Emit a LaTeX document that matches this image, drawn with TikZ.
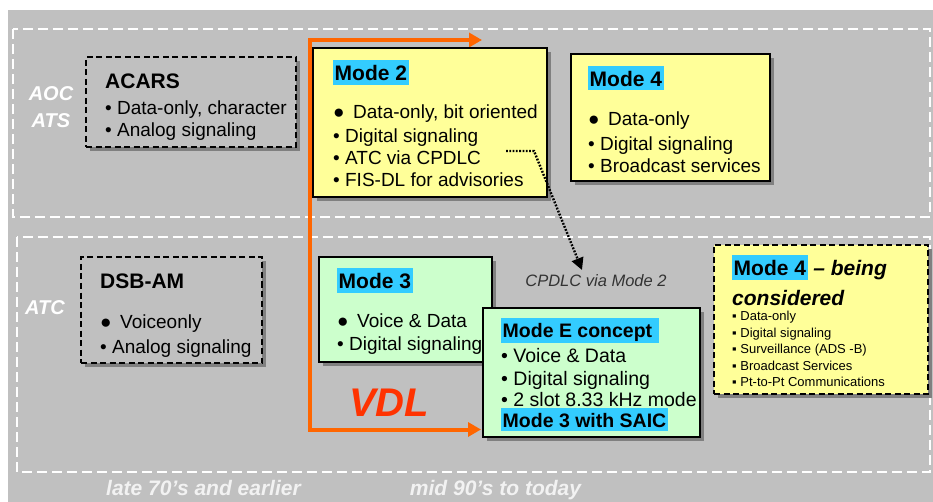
\documentclass[tikz,border=0pt]{standalone}
\usepackage{fontspec}
\setmainfont{Liberation Sans}
\usepackage{xcolor}
\usepackage{tikz}
\usetikzlibrary{
  arrows.meta,
  shadows
}
\definecolor{slidegray}{RGB}{192,192,192}
\definecolor{shadegray}{RGB}{128,128,128}
\definecolor{noteyellow}{RGB}{255,255,153}
\definecolor{notegreen}{RGB}{204,255,204}
\definecolor{markcyan}{RGB}{51,204,255}
\definecolor{vdlorange}{RGB}{255,102,0}
\definecolor{vdlred}{RGB}{255,51,0}
\definecolor{erawhite}{RGB}{242,242,242}
\definecolor{notegray}{RGB}{51,51,51}
\newcommand{\hlt}[1]{{\setlength{\fboxsep}{1.5pt}\colorbox{markcyan}{\rule[-0.12em]{0pt}{1.02em}#1}}}
\newcommand{\ttl}{\fontsize{21}{22}\selectfont\bfseries}
\newcommand{\bigdot}{●\hspace{0.45em}}
\newcommand{\dotb}{•\ }
\newcommand{\sqb}{▪\ }
\tikzset{
  region/.style={draw=white,line width=2pt,dash pattern=on 10pt off 5pt},
  boxshadow/.style={drop shadow={shadow xshift=4pt,shadow yshift=-4pt,
    fill=shadegray,opacity=1}},
  oldbox/.style={draw=black,line width=2pt,dash pattern=on 6pt off 3.5pt,
    fill=slidegray,boxshadow},
  vdlbox/.style={draw=black,line width=1.4pt,fill=#1,boxshadow},
  pending/.style={draw=black,line width=2pt,dash pattern=on 6pt off 3.5pt,
    fill=noteyellow,boxshadow},
  txt/.style={anchor=north west,inner sep=0pt,align=left,
    font=\fontsize{19}{22}\selectfont},
  sidelab/.style={text=white,inner sep=0pt,align=center,
    font=\fontsize{20}{27}\selectfont\bfseries\itshape},
  era/.style={anchor=base,text=erawhite,inner sep=0pt,
    font=\fontsize{21}{24}\selectfont\bfseries\itshape},
  vdlflow/.style={{Triangle[length=13pt,width=14pt]}-{Triangle[length=13pt,width=14pt]},
    line width=4pt,draw=vdlorange},
  cpdlcflow/.style={-{Triangle[length=12pt,width=12pt]},line width=2.4pt,
    dash pattern=on 1.8pt off 1.5pt,draw=black},
  lab/.style={anchor=base,inner sep=0pt,text=notegray,
    font=\fontsize{16.5}{18}\selectfont\itshape}
}
\begin{document}
\begin{tikzpicture}[x=1pt,y=-1pt]
  \useasboundingbox (0,0) rectangle (933,502);
  \fill[white] (0,0) rectangle (933,502);
  \fill[slidegray] (8,10) rectangle (933,502);
  \draw[region] (13,29) rectangle (930,217);
  \draw[region] (17,237) rectangle (930,472);

  \node[sidelab,anchor=north] (aocats) at (51,86) {AOC\\ATS};
  \node[sidelab,anchor=base] (atc) at (45,314) {ATC};

  \coordinate (vdltop) at (482,40);
  \coordinate (vdlbend) at (309.5,235);
  \coordinate (vdlend) at (481,429.5);
  \draw[vdlflow] (vdltop) -| (vdlbend) |- (vdlend);

  \node[oldbox,minimum width=210,minimum height=90] (acars) at (191,102) {};
  \node[txt] (acarstxt) at (105,74)
    {{\ttl ACARS}\\[4pt]\dotb Data-only, character\\\dotb Analog signaling};

  \node[vdlbox=noteyellow,minimum width=234,minimum height=149] (modetwo) at (430,122.5) {};
  \node[txt] (modetwotxt) at (333,60)
    {{\ttl\hlt{Mode 2}}\\[16pt]\bigdot Data-only, bit oriented\\[2pt]\dotb Digital signaling\\
     \dotb ATC via CPDLC\\\dotb FIS-DL for advisories};

  \node[vdlbox=noteyellow,minimum width=199,minimum height=127] (modefour) at (670.5,117.5) {};
  \node[txt] (modefourtxt) at (588,65.5)
    {{\ttl\hlt{Mode 4}}\\[17pt]\bigdot Data-only\\[3pt]\dotb Digital signaling\\\dotb Broadcast services};

  \node[oldbox,minimum width=181,minimum height=106] (dsbam) at (171.5,310) {};
  \node[txt] (dsbamtxt) at (100,274)
    {{\ttl DSB-AM}\\[18pt]\bigdot Voiceonly\\[3pt]\dotb Analog signaling};

  \node[vdlbox=notegreen,minimum width=173,minimum height=105] (modethree) at (405.5,309.5) {};
  \node[txt] (modethreetxt) at (337,268)
    {{\ttl\hlt{Mode 3}}\\[17pt]\bigdot Voice \& Data\\[1pt]\dotb Digital signaling};

  \node[vdlbox=notegreen,minimum width=217,minimum height=129] (modee) at (591.5,372.5) {};
  \node[txt,font=\fontsize{19.5}{21}\selectfont] (modeetxt) at (501,318)
    {{\bfseries\hlt{Mode E concept\ }}\\[4pt]\dotb Voice \& Data\\[2pt]\dotb Digital signaling\\
     \dotb 2 slot 8.33 kHz mode\\{\bfseries\hlt{Mode 3 with SAIC}}};

  \node[pending,minimum width=214,minimum height=149] (modefourplus) at (821,319.5) {};
  \node[txt,font=\fontsize{13}{16.5}\selectfont] (modefourplustxt) at (732,255)
    {{\ttl\hlt{Mode 4} \itshape – being}\\[9.5pt]{\ttl\itshape considered}\\[-1.5pt]
     \sqb Data-only\\\sqb Digital signaling\\\sqb Surveillance (ADS -B)\\
     \sqb Broadcast Services\\\sqb Pt-to-Pt Communications};

  \node[lab] (cpdlclab) at (596,287) {CPDLC via Mode 2};
  \coordinate (cpdlcstart) at (506,151);
  \coordinate (cpdlcbend) at (534,151);
  \coordinate (cpdlctip) at (582,270);
  \draw[cpdlcflow] (cpdlcstart) -- (cpdlcbend) -- (cpdlctip);

  \node[text=vdlred,font=\fontsize{40}{40}\selectfont\bfseries\itshape] (vdl) at (389,403) {VDL};

  \node[era] (early) at (203.5,495) {late 70’s and earlier};
  \node[era] (recent) at (495.5,495) {mid 90’s to today};
\end{tikzpicture}
\end{document}
